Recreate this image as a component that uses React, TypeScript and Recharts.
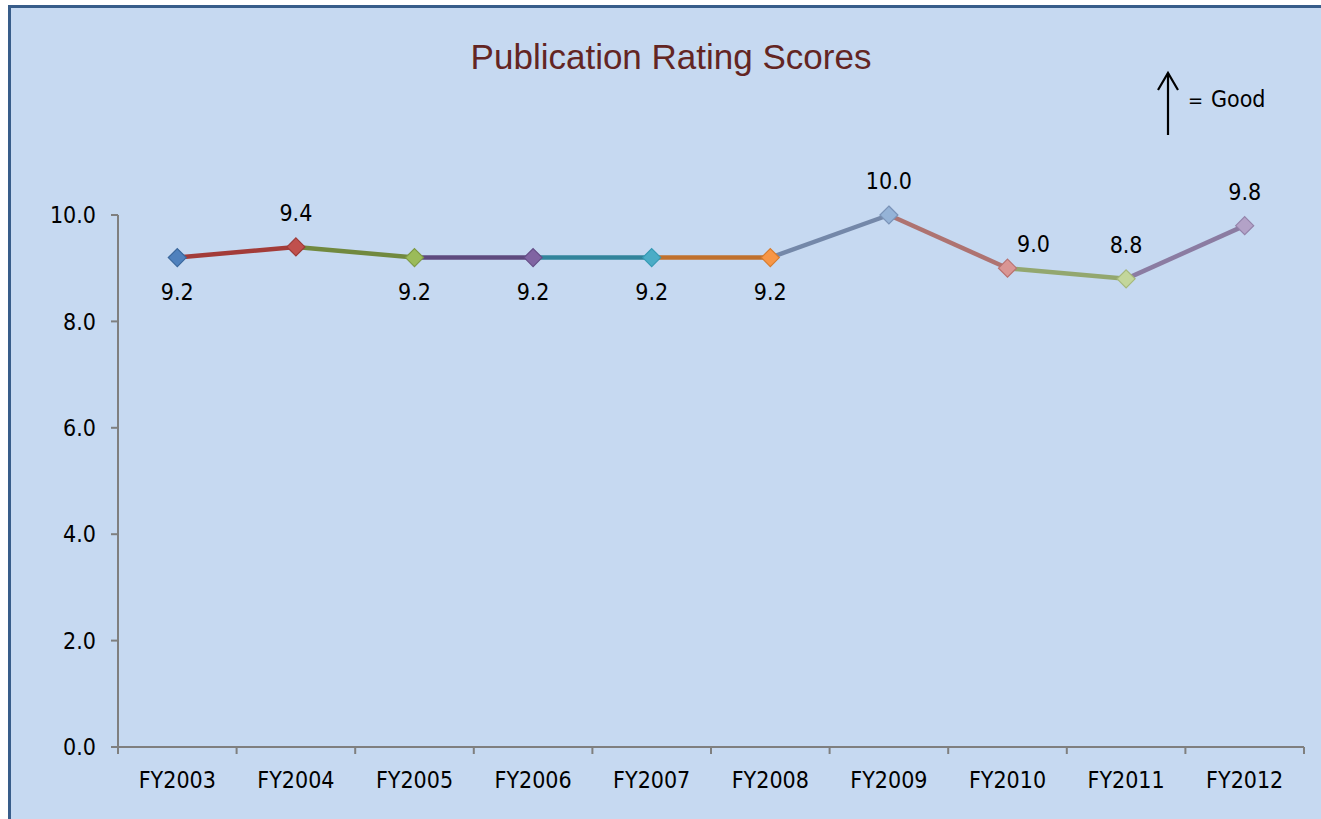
import React from 'react';
import { LineChart, Line, XAxis, YAxis, LabelList } from 'recharts';

const categories = ['FY2003', 'FY2004', 'FY2005', 'FY2006', 'FY2007', 'FY2008', 'FY2009', 'FY2010', 'FY2011', 'FY2012'];
const scores = [9.2, 9.4, 9.2, 9.2, 9.2, 9.2, 10.0, 9.0, 8.8, 9.8];
const yTicks = [0, 2, 4, 6, 8, 10];

// per-point colours (Excel "vary colors by point")
const markerFill = ['#4F81BD', '#C0504D', '#9BBB59', '#8064A2', '#4BACC6', '#F79646', '#95B3D7', '#D99694', '#C3D69B', '#B3A2C7'];
const markerEdge = ['#3A679C', '#9E3B38', '#7E9A44', '#654D87', '#359AB4', '#D77B2C', '#7A93B8', '#B97270', '#A5B87B', '#9483AA'];
// segment i runs from point i-1 to point i, coloured like point i
const segmentColor = ['', '#A33C39', '#71893F', '#5E4A7E', '#31849B', '#C0702C', '#7488A9', '#AE7371', '#93A76F', '#8B7CA2'];
const labelPlace = ['below', 'above', 'below', 'below', 'below', 'below', 'above', 'right', 'above', 'above'];

const FONT = '"Liberation Sans Narrow", "DejaVu Sans Condensed", "Arial Narrow", sans-serif';
const FS = 23;
const PLOT_LEFT = 118;
const PLOT_RIGHT = 1304;
const HALF_BAND = (PLOT_RIGHT - PLOT_LEFT) / categories.length / 2;
const AXIS_GREY = '#7F7F7F';

const chartData = categories.map((year, i) => {
  const row: Record<string, string | number | undefined> = { year, score: scores[i] };
  for (let s = 1; s < categories.length; s++) {
    row['s' + s] = i === s - 1 || i === s ? scores[i] : undefined;
  }
  return row;
});

function Diamond(props: any) {
  const { cx, cy, index } = props;
  const r = 9;
  return (
    <path
      key={'d' + index}
      d={`M${cx},${cy - r} L${cx + r},${cy} L${cx},${cy + r} L${cx - r},${cy} Z`}
      fill={markerFill[index]}
      stroke={markerEdge[index]}
      strokeWidth={1.2}
    />
  );
}

function PointLabel(props: any) {
  const { x, y, value, index } = props;
  const place = labelPlace[index];
  let tx = x;
  let ty = y - 35;
  if (place === 'below') ty = y + 33;
  if (place === 'right') {
    tx = x + 26;
    ty = y - 25;
  }
  return (
    <text x={tx} y={ty + 9} textAnchor="middle" fontFamily={FONT} fontSize={FS} fill="#000">
      {Number(value).toFixed(1)}
    </text>
  );
}

function CategoryTick(props: any) {
  const { x, y, payload, index } = props;
  return (
    <g>
      <line x1={x - HALF_BAND} x2={x - HALF_BAND} y1={y} y2={y + 7} stroke={AXIS_GREY} strokeWidth={2} />
      {index === categories.length - 1 && (
        <line x1={x + HALF_BAND} x2={x + HALF_BAND} y1={y} y2={y + 7} stroke={AXIS_GREY} strokeWidth={2} />
      )}
      <text x={x} y={y + 41} textAnchor="middle" fontFamily={FONT} fontSize={FS} fill="#000">
        {payload.value}
      </text>
    </g>
  );
}

export default function App() {
  return (
    <div style={{ position: 'absolute', left: 0, top: 0, width: 1321, height: 819, overflow: 'hidden', background: '#fff' }}>
      <div
        style={{
          position: 'absolute',
          left: 8,
          top: 5,
          width: 1340,
          height: 840,
          background: '#C6D9F1',
          border: '3px solid #385D8A',
        }}
      />
      <svg width={1321} height={819} style={{ position: 'absolute', left: 0, top: 0 }}>
        <text x={671} y={69} textAnchor="middle" fontFamily='"Liberation Sans", Arial, sans-serif' fontSize={35} fill="#632523">
          Publication Rating Scores
        </text>
        <line x1={1168} y1={73} x2={1168} y2={135} stroke="#000" strokeWidth={2.2} />
        <polyline points="1158,90 1168,73 1178,90" fill="none" stroke="#000" strokeWidth={2.2} />
        <text x={1188} y={107} fontFamily={FONT} fontSize={20} fill="#000">=</text>
        <text x={1211} y={107} fontFamily={FONT} fontSize={FS} fill="#000">Good</text>
      </svg>
      <div style={{ position: 'absolute', left: 0, top: 0 }}>
        <LineChart width={1321} height={819} data={chartData} margin={{ top: 215, right: 17, bottom: 0, left: 58 }}>
          <XAxis
            dataKey="year"
            interval={0}
            height={72}
            tickSize={0}
            tickMargin={0}
            padding={{ left: HALF_BAND, right: HALF_BAND }}
            stroke={AXIS_GREY}
            strokeWidth={2}
            tick={<CategoryTick />}
          />
          <YAxis
            domain={[0, 10]}
            ticks={yTicks}
            width={60}
            tickSize={7}
            tickMargin={15}
            stroke={AXIS_GREY}
            strokeWidth={2}
            tickFormatter={(v: number) => v.toFixed(1)}
            tick={{ fill: '#000', fontFamily: FONT, fontSize: FS }}
          />
          {segmentColor.slice(1).map((c, k) => (
            <Line
              key={'s' + (k + 1)}
              dataKey={'s' + (k + 1)}
              stroke={c}
              strokeWidth={4.5}
              dot={false}
              activeDot={false}
              isAnimationActive={false}
            />
          ))}
          <Line dataKey="score" stroke="none" dot={Diamond} activeDot={false} isAnimationActive={false}>
            <LabelList dataKey="score" content={PointLabel} />
          </Line>
        </LineChart>
      </div>
    </div>
  );
}
